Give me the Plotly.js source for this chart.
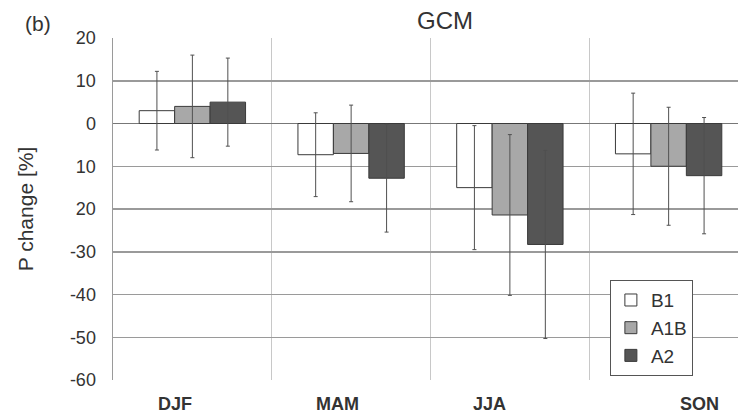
<!DOCTYPE html>
<html><head><meta charset="utf-8">
<script src="https://cdn.plot.ly/plotly-3.0.1.min.js"></script>
<style>html,body{margin:0;padding:0;background:#fff}#c{width:738px;height:417px}</style>
</head><body><div id="c"></div>
<script>
const seasons = ['DJF','MAM','JJA','SON'];
const b1  = [3, -7.3, -15, -7.1];
const b1Err = [9.2, 9.8, 14.5, 14.2];
const a1b = [4, -7, -21.4, -10];
const a1bErr = [12, 11.3, 18.8, 13.8];
const a2  = [5, -12.8, -28.3, -12.2];
const a2Err = [10.3, 12.6, 22, 13.6];
const yTickVals = [20,10,0,-10,-20,-30,-40,-50,-60];
const yTickText = ['20','10','0','10','20','-30','-40','-50','-60'];
const labelShift = [-17,-14,-20,31];

const font = 'Liberation Sans, Arial, sans-serif';
function tr(name, y, err, color){
  return {type:'bar', name:name, x:seasons, y:y,
    marker:{color:color, line:{color:'#3a3a3a', width:1}},
    error_y:{type:'data', array:err, visible:true, color:'#505050', thickness:1, width:2}};
}
const data = [tr('B1', b1, b1Err, '#ffffff'), tr('A1B', a1b, a1bErr, '#a8a8a8'), tr('A2', a2, a2Err, '#555555')];

const ann = seasons.map((s,i)=>({x:s, xref:'x', y:0, yref:'paper', yanchor:'top', yshift:-12,
  xshift:labelShift[i], text:'<b>'+s+'</b>', showarrow:false, font:{family:font, size:18, color:'#333'}}));
ann.push({x:-0.12, xref:'paper', xanchor:'center', y:1.041, yref:'paper', yanchor:'middle', text:'(b)', showarrow:false,
  font:{family:font, size:21, color:'#333'}});

const layout = {
  width:738, height:417,
  margin:{l:113, r:0, t:38, b:37},
  paper_bgcolor:'#fff', plot_bgcolor:'#fff',
  title:{text:'GCM', x:445/738, xanchor:'center', y:1-21/417, yref:'container', yanchor:'middle',
    font:{family:font, size:24, color:'#333'}},
  barmode:'group', bargap:0.33, bargroupgap:0,
  showlegend:true,
  legend:{x:0.795, y:0.292, xanchor:'left', yanchor:'top', bgcolor:'#fff', bordercolor:'#555', borderwidth:1,
    font:{family:font, size:19, color:'#333'}, tracegroupgap:0, itemwidth:30},
  xaxis:{type:'category', range:[-0.5, 3.437], tickson:'boundaries', showgrid:true, gridcolor:'#c8c8c8', gridwidth:1,
    showticklabels:false, ticks:'', showline:false, zeroline:false, fixedrange:true},
  yaxis:{range:[-60,20], tickvals:yTickVals, ticktext:yTickText, showgrid:true, gridcolor:'#9a9a9a', gridwidth:1.5,
    zeroline:true, zerolinecolor:'#777', zerolinewidth:1, showline:true, linecolor:'#9a9a9a', linewidth:1.5,
    ticks:'', ticklabelstandoff:12, tickfont:{family:font, size:18, color:'#333'},
    title:{text:'P change [%]', standoff:30, font:{family:font, size:21, color:'#333'}}},
  annotations:ann
};
Plotly.newPlot('c', data, layout, {displayModeBar:false, staticPlot:true});
</script></body></html>
